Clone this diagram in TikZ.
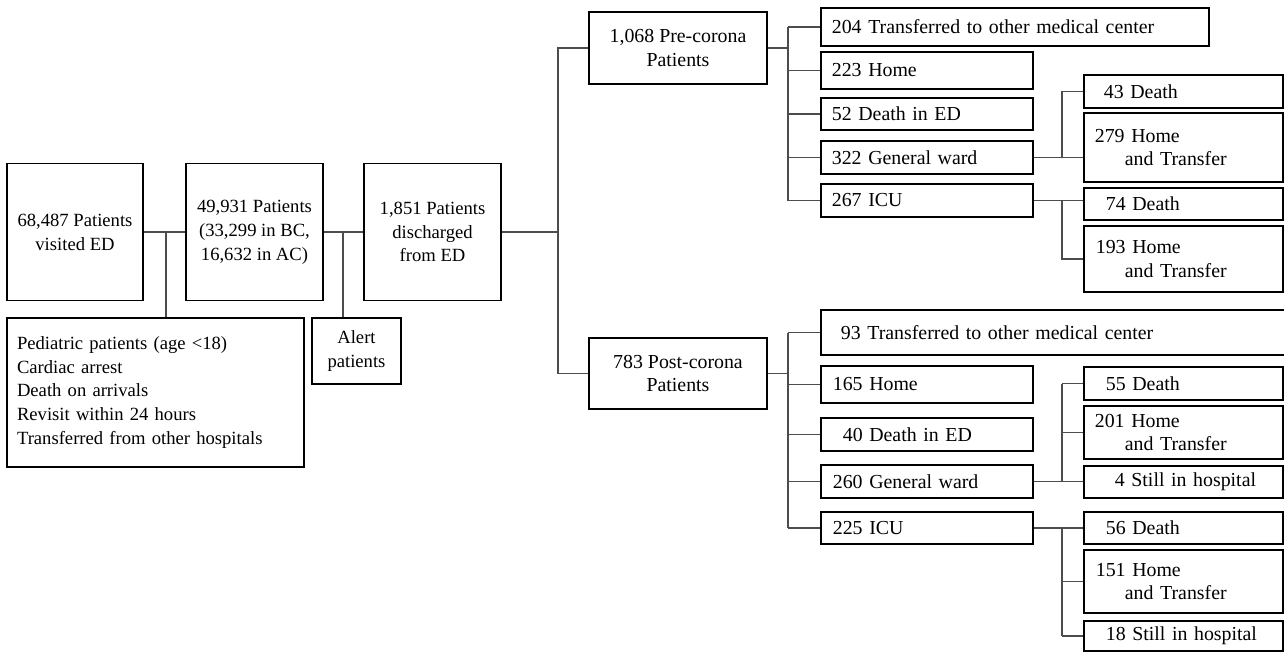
\documentclass[tikz,border=0pt]{standalone}
\usepackage{fontspec}
\setmainfont{Liberation Serif}
\usepackage{tikz}

\newcommand{\lfont}{\fontsize{10.6}{13.6}\selectfont}
\newcommand{\rfont}{\fontsize{11.3}{13.6}\selectfont}

\tikzset{
 box/.style
  = {draw, line width=1pt, inner sep=0pt},
 main/.style
  = {box, align=center, font=\lfont, minimum width=2.73cm, minimum height=2.74cm},
 mid/.style
  = {box, align=center, font=\rfont, minimum width=3.56cm},
 leaf/.style
  = {box, anchor=west, align=left, font=\rfont},
 narrow/.style
  = {text width=4.24cm},
 grand/.style
  = {text width=3.98cm},
 link/.style
  = {draw=black!70, line width=0.7pt},
}

\begin{document}
\begin{tikzpicture}[x=0.02cm, y=-0.02cm]
\useasboundingbox (0,0) rectangle (1284,652);

% Left part
\node[main] (visit) at (75,232) {68,487 Patients\\visited ED};
\node[main] (pat) at (254.5,232) {49,931 Patients\\(33,299 in BC,\\16,632 in AC)};
\node[main] (dis) at (432.5,232) {1,851 Patients\\discharged\\from ED};

\node[box, font=\lfont, align=left, text width=5.54cm, inner xsep=0.2cm,
      minimum height=2.98cm] (excl) at (155.5,392.5)
  {Pediatric patients (age <18)\\Cardiac arrest\\Death on arrivals\\Revisit within 24 hours\\Transferred from other hospitals};
\node[box, font=\lfont, align=center, minimum width=1.78cm,
      minimum height=1.32cm] (alert) at (356.5,351) {Alert\\patients};

% Pre / post corona
\node[mid, minimum height=1.44cm] (pre) at (678,48) {1,068 Pre-corona\\Patients};
\node[mid, minimum height=1.42cm] (post) at (678,373.5) {783 Post-corona\\Patients};

% Pre-corona outcomes
\node[leaf, text width=7.76cm, minimum height=0.76cm] (t204) at (820,27) {\hspace*{0.22cm}204 Transferred to other medical center};
\node[leaf, narrow, minimum height=0.74cm] (h223) at (820,70.5) {\hspace*{0.22cm}223 Home};
\node[leaf, narrow, minimum height=0.64cm] (d52) at (820,114) {\hspace*{0.22cm}52 Death in ED};
\node[leaf, narrow, minimum height=0.66cm] (gw322) at (820,157.5) {\hspace*{0.22cm}322 General ward};
\node[leaf, narrow, minimum height=0.66cm] (icu267) at (820,200.5) {\hspace*{0.22cm}267 ICU};

\node[leaf, grand, minimum height=0.66cm] (d43) at (1083,91.5) {\hspace*{0.4cm}43 Death};
\node[leaf, grand, minimum height=1.38cm] (ht279) at (1083,147.5) {\hspace*{0.22cm}279 Home\\\hspace*{0.82cm}and Transfer};
\node[leaf, grand, minimum height=0.64cm] (d74) at (1083,204) {\hspace*{0.44cm}74 Death};
\node[leaf, grand, minimum height=1.32cm] (ht193) at (1083,259) {\hspace*{0.24cm}193 Home\\\hspace*{0.82cm}and Transfer};

% Post-corona outcomes
\node[leaf, text width=9.28cm, minimum height=0.9cm] (t93) at (820,332.5) {\hspace*{0.4cm}93 Transferred to other medical center};
\node[leaf, narrow, minimum height=0.74cm] (h165) at (820,384.5) {\hspace*{0.24cm}165 Home};
\node[leaf, narrow, minimum height=0.66cm] (d40) at (820,434.5) {\hspace*{0.44cm}40 Death in ED};
\node[leaf, narrow, minimum height=0.66cm] (gw260) at (820,481.5) {\hspace*{0.24cm}260 General ward};
\node[leaf, narrow, minimum height=0.64cm] (icu225) at (820,528) {\hspace*{0.24cm}225 ICU};

\node[leaf, grand, minimum height=0.66cm] (d55) at (1083,383.5) {\hspace*{0.44cm}55 Death};
\node[leaf, grand, minimum height=1.06cm] (ht201) at (1083,432.5) {\hspace*{0.22cm}201 Home\\\hspace*{0.82cm}and Transfer};
\node[leaf, grand, minimum height=0.64cm] (s4) at (1083,482) {\hspace*{0.62cm}4 Still in hospital};
\node[leaf, grand, minimum height=0.64cm] (d56) at (1083,528) {\hspace*{0.44cm}56 Death};
\node[leaf, grand, minimum height=1.26cm] (ht151) at (1083,581.5) {\hspace*{0.24cm}151 Home\\\hspace*{0.82cm}and Transfer};
\node[leaf, grand, minimum height=0.6cm] (s18) at (1083,636) {\hspace*{0.44cm}18 Still in hospital};

% Connectors
\coordinate (cut1) at (166,232);
\coordinate (cut2) at (343,232);
\coordinate (trunk) at (558,232);
\coordinate (bus) at (788,0);
\coordinate (subbus) at (1062,0);

\draw[link] (visit) -- (pat);
\draw[link] (pat) -- (dis);
\draw[link] (cut1) -- (cut1 |- excl.north);
\draw[link] (cut2) -- (cut2 |- alert.north);
\draw[link] (dis.east) -- (trunk);
\draw[link] (pre.west) -| (trunk) |- (post.west);

% pre-corona
\draw[link] (pre.east) -- (bus |- pre.east);
\draw[link] (bus |- t204.west) -- (bus |- icu267.west);
\foreach \n in {t204,h223,d52,gw322,icu267}
  \draw[link] (bus |- \n.west) -- (\n.west);

\draw[link] (gw322.east) -- (gw322.east -| ht279.west);
\draw[link] (subbus |- d43.west) -- (subbus |- gw322.east);
\draw[link] (subbus |- d43.west) -- (d43.west);
\draw[link] (icu267.east) -- (icu267.east -| d74.west);
\draw[link] (subbus |- icu267.east) |- (ht193.west);

% post-corona
\draw[link] (post.east) -- (bus |- post.east);
\draw[link] (bus |- t93.west) -- (bus |- icu225.west);
\foreach \n in {t93,h165,d40,gw260,icu225}
  \draw[link] (bus |- \n.west) -- (\n.west);

\draw[link] (gw260.east) -- (gw260.east -| s4.west);
\draw[link] (subbus |- d55.west) -- (subbus |- gw260.east);
\foreach \n in {d55,ht201}
  \draw[link] (subbus |- \n.west) -- (\n.west);
\draw[link] (icu225.east) -- (icu225.east -| d56.west);
\draw[link] (subbus |- icu225.east) -- (subbus |- s18.west);
\foreach \n in {ht151,s18}
  \draw[link] (subbus |- \n.west) -- (\n.west);

\end{tikzpicture}
\end{document}
